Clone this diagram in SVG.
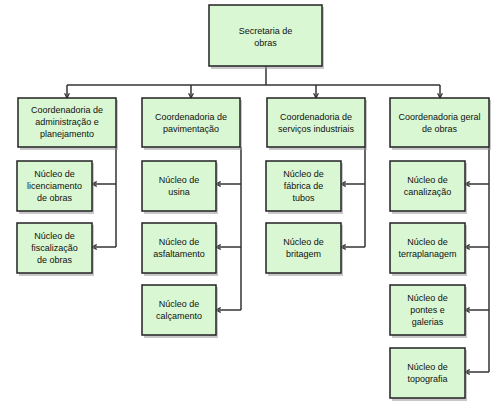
<svg xmlns="http://www.w3.org/2000/svg" width="497" height="407" viewBox="0 0 497 407">
<defs>
<marker id="arr" viewBox="0 0 10 10" refX="9" refY="5" markerWidth="6" markerHeight="6" orient="auto" markerUnits="userSpaceOnUse">
<path d="M1,1 L9,5 L1,9" fill="none" stroke="#333" stroke-width="2"/>
</marker>
</defs>
<style>
.box{fill:#d9f7d2;stroke:#222;stroke-width:1.5}
.sh{fill:#9a9a9a;opacity:0.55}
.t{font-family:"Liberation Sans",Arial,sans-serif;font-size:9px;fill:#111;text-anchor:middle}
.c{fill:none;stroke:#333;stroke-width:1.5}
</style>
<rect width="497" height="407" fill="#fff"/>
<g id="connectors">
<path class="c" d="M266,66 V85"/>
<path class="c" d="M67,85 H440"/>
<path class="c" d="M67,85 V98" marker-end="url(#arr)"/>
<path class="c" d="M191,85 V98" marker-end="url(#arr)"/>
<path class="c" d="M316,85 V98" marker-end="url(#arr)"/>
<path class="c" d="M440,85 V98" marker-end="url(#arr)"/>
<path class="c" d="M116,147 V247"/>
<path class="c" d="M116,184 H92" marker-end="url(#arr)"/>
<path class="c" d="M116,247 H92" marker-end="url(#arr)"/>
<path class="c" d="M241,147 V310"/>
<path class="c" d="M241,184 H216" marker-end="url(#arr)"/>
<path class="c" d="M241,247 H216" marker-end="url(#arr)"/>
<path class="c" d="M241,310 H216" marker-end="url(#arr)"/>
<path class="c" d="M365,147 V247"/>
<path class="c" d="M365,184 H341" marker-end="url(#arr)"/>
<path class="c" d="M365,247 H341" marker-end="url(#arr)"/>
<path class="c" d="M489,147 V372"/>
<path class="c" d="M489,184 H465" marker-end="url(#arr)"/>
<path class="c" d="M489,247 H465" marker-end="url(#arr)"/>
<path class="c" d="M489,310 H465" marker-end="url(#arr)"/>
<path class="c" d="M489,372 H465" marker-end="url(#arr)"/>
</g>
<g id="secretaria">
<rect class="sh" x="211" y="7" width="113" height="62"/>
<rect class="box" x="209" y="5" width="113" height="61"/>
<text class="t" x="265.5" y="34">Secretaria de</text>
<text class="t" x="265.5" y="46">obras</text>
</g>
<g id="coord-admin">
<rect class="sh" x="20" y="100" width="98" height="50"/>
<rect class="box" x="18" y="98" width="98" height="49"/>
<text class="t" x="67" y="113">Coordenadoria de</text>
<text class="t" x="67" y="125">administração e</text>
<text class="t" x="67" y="137">planejamento</text>
</g>
<g id="coord-pav">
<rect class="sh" x="144" y="100" width="98" height="50"/>
<rect class="box" x="142" y="98" width="98" height="49"/>
<text class="t" x="191" y="120">Coordenadoria de</text>
<text class="t" x="191" y="132">pavimentação</text>
</g>
<g id="coord-serv">
<rect class="sh" x="269" y="100" width="98" height="50"/>
<rect class="box" x="267" y="98" width="98" height="49"/>
<text class="t" x="316" y="120">Coordenadoria de</text>
<text class="t" x="316" y="132">serviços industriais</text>
</g>
<g id="coord-geral">
<rect class="sh" x="392" y="100" width="99" height="50"/>
<rect class="box" x="390" y="98" width="99" height="49"/>
<text class="t" x="439.5" y="120">Coordenadoria geral</text>
<text class="t" x="439.5" y="132">de obras</text>
</g>
<g id="nucleo-licenciamento">
<rect class="sh" x="19" y="163" width="75" height="51"/>
<rect class="box" x="17" y="161" width="75" height="50"/>
<text class="t" x="54.5" y="177">Núcleo de</text>
<text class="t" x="54.5" y="189">licenciamento</text>
<text class="t" x="54.5" y="201">de obras</text>
</g>
<g id="nucleo-fiscalizacao">
<rect class="sh" x="19" y="225" width="75" height="51"/>
<rect class="box" x="17" y="223" width="75" height="50"/>
<text class="t" x="54.5" y="239">Núcleo de</text>
<text class="t" x="54.5" y="251">fiscalização</text>
<text class="t" x="54.5" y="263">de obras</text>
</g>
<g id="nucleo-usina">
<rect class="sh" x="144" y="163" width="74" height="51"/>
<rect class="box" x="142" y="161" width="74" height="50"/>
<text class="t" x="179" y="183">Núcleo de</text>
<text class="t" x="179" y="195">usina</text>
</g>
<g id="nucleo-asfaltamento">
<rect class="sh" x="144" y="225" width="74" height="51"/>
<rect class="box" x="142" y="223" width="74" height="50"/>
<text class="t" x="179" y="245">Núcleo de</text>
<text class="t" x="179" y="257">asfaltamento</text>
</g>
<g id="nucleo-calcamento">
<rect class="sh" x="144" y="287" width="74" height="51"/>
<rect class="box" x="142" y="285" width="74" height="50"/>
<text class="t" x="179" y="307">Núcleo de</text>
<text class="t" x="179" y="319">calçamento</text>
</g>
<g id="nucleo-fabrica">
<rect class="sh" x="268" y="163" width="75" height="51"/>
<rect class="box" x="266" y="161" width="75" height="50"/>
<text class="t" x="303.5" y="177">Núcleo de</text>
<text class="t" x="303.5" y="189">fábrica de</text>
<text class="t" x="303.5" y="201">tubos</text>
</g>
<g id="nucleo-britagem">
<rect class="sh" x="268" y="225" width="75" height="51"/>
<rect class="box" x="266" y="223" width="75" height="50"/>
<text class="t" x="303.5" y="245">Núcleo de</text>
<text class="t" x="303.5" y="257">britagem</text>
</g>
<g id="nucleo-canalizacao">
<rect class="sh" x="392" y="163" width="75" height="51"/>
<rect class="box" x="390" y="161" width="75" height="50"/>
<text class="t" x="427.5" y="183">Núcleo de</text>
<text class="t" x="427.5" y="195">canalização</text>
</g>
<g id="nucleo-terraplanagem">
<rect class="sh" x="392" y="225" width="75" height="51"/>
<rect class="box" x="390" y="223" width="75" height="50"/>
<text class="t" x="427.5" y="245">Núcleo de</text>
<text class="t" x="427.5" y="257">terraplanagem</text>
</g>
<g id="nucleo-pontes">
<rect class="sh" x="392" y="287" width="75" height="51"/>
<rect class="box" x="390" y="285" width="75" height="50"/>
<text class="t" x="427.5" y="301">Núcleo de</text>
<text class="t" x="427.5" y="313">pontes e</text>
<text class="t" x="427.5" y="325">galerias</text>
</g>
<g id="nucleo-topografia">
<rect class="sh" x="392" y="350" width="75" height="51"/>
<rect class="box" x="390" y="348" width="75" height="50"/>
<text class="t" x="427.5" y="370">Núcleo de</text>
<text class="t" x="427.5" y="382">topografia</text>
</g>
</svg>
